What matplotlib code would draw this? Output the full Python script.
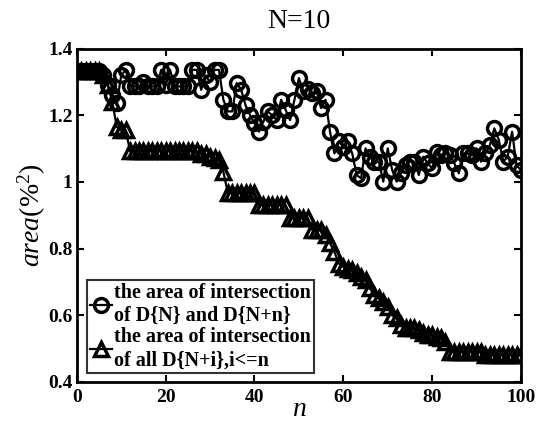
import numpy as np
import matplotlib
matplotlib.use('Agg')
import matplotlib.pyplot as plt

plt.rcParams['font.family'] = ['Liberation Serif', 'DejaVu Serif']
plt.rcParams['mathtext.fontset'] = 'custom'
plt.rcParams['mathtext.rm'] = 'Liberation Serif'
plt.rcParams['mathtext.it'] = 'Liberation Serif:italic'

n = np.arange(0, 101)

# area of intersection of D{N} and D{N+n}
circ = [1.333, 1.333, 1.333, 1.333, 1.333, 1.333, 1.32, 1.29, 1.26, 1.237,
        1.32, 1.337, 1.287, 1.287, 1.287, 1.30, 1.287, 1.287, 1.287, 1.337,
        1.29, 1.337, 1.287, 1.287, 1.287, 1.287, 1.337, 1.337, 1.277, 1.32,
        1.30, 1.337, 1.337, 1.247, 1.212, 1.212, 1.297, 1.277, 1.23, 1.201,
        1.176, 1.151, 1.181, 1.212, 1.20, 1.186, 1.247, 1.217, 1.186, 1.247,
        1.312, 1.272, 1.28, 1.267, 1.272, 1.222, 1.247, 1.151, 1.086, 1.122,
        1.106, 1.122, 1.086, 1.021, 1.011, 1.101, 1.075, 1.061, 1.061, 1.001,
        1.101, 1.036, 1.001, 1.026, 1.051, 1.061, 1.061, 1.021, 1.076, 1.056,
        1.041, 1.091, 1.081, 1.086, 1.081, 1.056, 1.026, 1.086, 1.086, 1.081,
        1.101, 1.061, 1.086, 1.111, 1.161, 1.127, 1.061, 1.076, 1.151, 1.05,
        1.036]

# area of intersection of all D{N+i}, i<=n
tri = [1.333, 1.333, 1.333, 1.333, 1.333, 1.333, 1.32, 1.29, 1.24, 1.165,
       1.155, 1.155, 1.093, 1.093, 1.093, 1.093, 1.093, 1.093, 1.093, 1.093,
       1.093, 1.093, 1.093, 1.093, 1.093, 1.093, 1.093, 1.093, 1.083, 1.083,
       1.075, 1.072, 1.065, 1.03, 0.967, 0.967, 0.967, 0.967, 0.967, 0.967,
       0.967, 0.931, 0.931, 0.931, 0.931, 0.931, 0.931, 0.931, 0.893, 0.893,
       0.893, 0.893, 0.893, 0.856, 0.856, 0.856, 0.84, 0.816, 0.79, 0.755,
       0.745, 0.74, 0.735, 0.725, 0.715, 0.705, 0.68, 0.66, 0.65, 0.64,
       0.625, 0.60, 0.59, 0.57, 0.56, 0.56, 0.56, 0.555, 0.545, 0.54,
       0.54, 0.535, 0.53, 0.52, 0.49, 0.49, 0.49, 0.49, 0.49, 0.49,
       0.49, 0.49, 0.48, 0.48, 0.48, 0.48, 0.48, 0.48, 0.48, 0.48,
       0.48]

fig = plt.figure(figsize=(5.41, 4.25), dpi=100)
ax = fig.add_axes([0.142, 0.102, 0.821, 0.783])

ax.plot(n, circ, '-o', color='black', lw=1.6, ms=10, mfc='none', mew=2.5,
        label='the area of intersection\nof D{N} and D{N+n}')
ax.plot(n, tri, '-^', color='black', lw=1.6, ms=10, mfc='none', mew=2.5,
        label='the area of intersection\nof all D{N+i},i<=n')

ax.set_xlim(0, 100)
ax.set_ylim(0.4, 1.4)
ax.set_xticks([0, 20, 40, 60, 80, 100])
ax.set_yticks([0.4, 0.6, 0.8, 1.0, 1.2, 1.4])
ax.set_yticklabels(['0.4', '0.6', '0.8', '1', '1.2', '1.4'])
ax.tick_params(direction='in', top=True, right=True, length=5, width=1.5,
               labelsize=14)
ax.tick_params(axis='x', pad=5)
ax.tick_params(axis='y', pad=3)
for lab in ax.get_xticklabels() + ax.get_yticklabels():
    lab.set_fontweight('bold')
for s in ax.spines.values():
    s.set_linewidth(2)

ax.set_title('N=10', fontsize=20, pad=15)
ax.set_xlabel(r'$n$', fontsize=20, labelpad=-6)
ax.set_ylabel(r'$area(\%^2)$', fontsize=20, labelpad=0)

leg = ax.legend(loc='lower left', bbox_to_anchor=(0.0, -0.005),
                prop={'weight': 'bold', 'size': 14.5}, frameon=True, fancybox=False,
                edgecolor='black', handlelength=1.1, handletextpad=0.1,
                borderpad=0.15, labelspacing=0.05, borderaxespad=0.5)
leg.get_frame().set_linewidth(1.5)

fig.savefig('out.png', dpi=100)
